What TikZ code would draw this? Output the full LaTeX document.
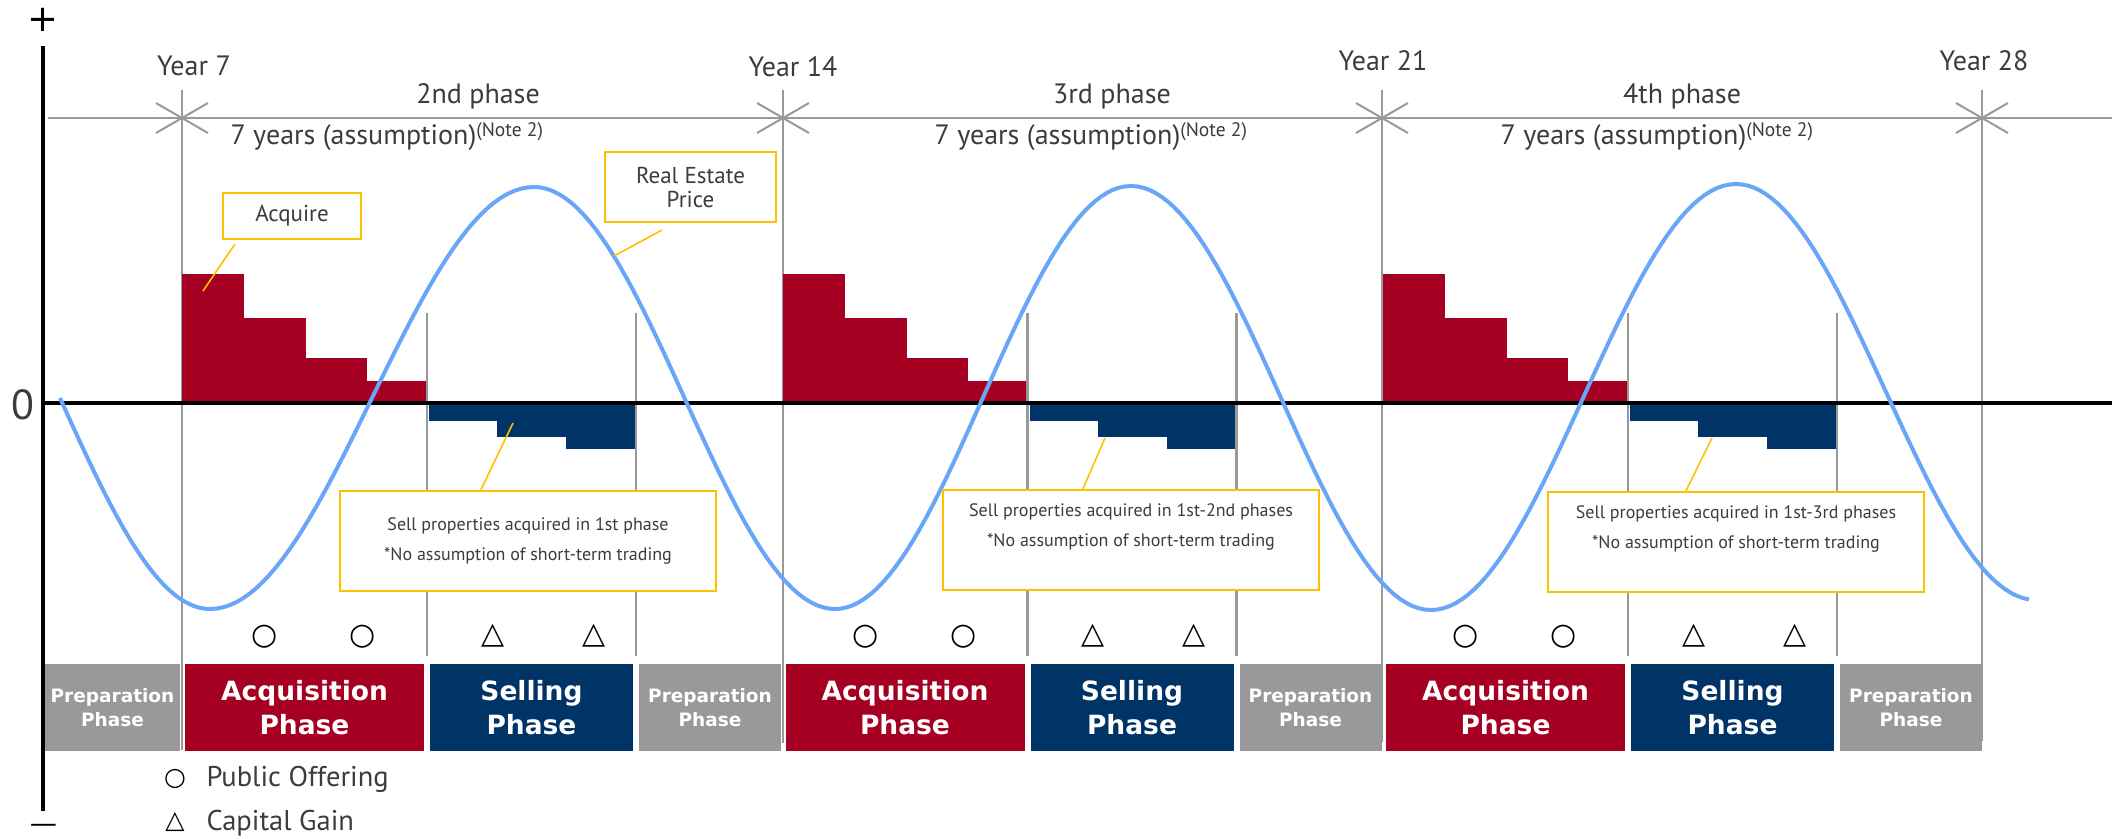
\documentclass[tikz,border=0pt]{standalone}
\usepackage{fontspec}
\setmainfont{PT Sans}
\newfontfamily\symfont{DejaVu Sans}
\usetikzlibrary{positioning}

\definecolor{acqred}{HTML}{A50021}
\definecolor{sellnavy}{HTML}{003366}
\definecolor{prepgray}{HTML}{999999}
\definecolor{guidegray}{HTML}{999999}
\definecolor{pricecol}{HTML}{6AA6F8}
\definecolor{calloutcol}{HTML}{FFC000}
\definecolor{ink}{HTML}{3C3C3C}

\newcommand{\fsz}[1]{\fontsize{#1}{#1}\selectfont}

\tikzset{
  guide/.style={draw=guidegray, line width=2.6pt},
  callbox/.style={draw=calloutcol, line width=2.2pt, fill=white, text=ink,
    align=center, inner sep=0pt},
  leader/.style={draw=calloutcol, line width=1.6pt},
  phasebox/.style={text=white, align=center, inner sep=0pt, minimum height=87pt,
    font=\symfont\bfseries\fsz{26.5}, text depth=0pt},
  prepbox/.style={phasebox, fill=prepgray, font=\symfont\bfseries\fsz{18.5}},
  yearlabel/.style={text=ink, font=\fsz{28}},
  glyphmark/.style={text=black, font=\symfont\fsz{30}, inner sep=0pt},
  signlabel/.style={font=\symfont\fsz{37}, inner sep=0pt, anchor=base},
}

\begin{document}
\begin{tikzpicture}[x=1pt, y=-1pt, line cap=butt]
  \useasboundingbox (0,0) rectangle (2112,838);

  % axes
  \draw[line width=3.6pt] (43,46) -- (43,811);
  \node[signlabel] (plus) at (43.5,31) {+};
  \node[font=\fsz{42}, text=ink] (zero) at (23,405) {0};
  \node[signlabel, font=\symfont\fsz{23}] (minus) at (43.5,832) {\scalebox{1.7}[1]{−}};

  % time line with year marks
  \draw[guidegray, line width=2.4pt] (48,118) -- (2112,118);
  \foreach \x/\lab/\lx/\ly/\yb in {182/Year 7/194/66/750, 783/Year 14/793/67/743,
      1382/Year 21/1383/61/742, 1982/Year 28/1984/61/741} {
    \draw[guide] (\x,90) -- (\x,\yb);
    \draw[guidegray, line width=2pt] (\x-26,103) -- (\x+26,133) (\x-26,133) -- (\x+26,103);
    \node[yearlabel] at (\lx,\ly) {\lab};
  }
  \foreach \x/\lab in {478/2nd phase, 1112/3rd phase, 1682/4th phase}
    \node[yearlabel] at (\x,96) {\lab};
  \foreach \x in {227, 931, 1497}
    \node[yearlabel, anchor=west] at (\x,137)
      {7 years (assumption)\raisebox{8pt}{\fsz{19.5}(Note 2)}};

  % bars and phases, one block per 7 years
  \foreach \k in {0,1,2} {
    \pgfmathsetmacro\o{182+\k*600.5}
    \foreach \a/\b/\t in {0/62/274, 62/124/318, 124/185/358, 185/244/381}
      \fill[acqred] (\o+\a,\t) rectangle (\o+\b,403);
    \foreach \a/\b/\t in {247/315/421, 315/384/437, 384/454/449}
      \fill[sellnavy] (\o+\a,403) rectangle (\o+\b,\t);
    \draw[guide] (\o+245,313) -- (\o+245,656);
    \draw[guide] (\o+454,313) -- (\o+454,656);
    \node[phasebox, fill=acqred, minimum width=239pt] (acq\k) at (\o+122.5,707.5)
      {Acquisition\\[8pt]Phase};
    \node[phasebox, fill=sellnavy, minimum width=203pt] (sell\k) at (\o+349.5,707.5)
      {Selling\\[8pt]Phase};
    \node[prepbox, minimum width=142pt] (prep\k) at (\o+528,707.5) {Preparation\\[5pt]Phase};
    \foreach \m in {83,181}
      \node[glyphmark] at (\o+\m,637) {○};
    \foreach \m in {311,412}
      \node[glyphmark] at (\o+\m,636) {△};
  }
  \node[prepbox, minimum width=135pt] (prepS) at (112.5,707.5) {Preparation\\[5pt]Phase};

  % zero line
  \draw[line width=4.6pt] (43,403) -- (2112,403);

  % real estate price
  \draw[pricecol, line width=4pt, line join=round]
    plot[domain=90:180, samples=30] ({-90+300*(\x/180)},{187+211*(1-cos(\x))})
    foreach \xa/\ya/\xb/\yb/\tb in {210/609/534/187/180, 534/187/835/609/180,
        835/609/1131/186/180, 1131/186/1431/610/180, 1431/610/1736/184/180,
        1736/184/2036/600/175.8}
    { -- plot[domain=0:\tb, samples=50] ({\xa+(\xb-\xa)*(\x/180)},{\ya+(\yb-\ya)*(1-cos(\x))/2}) };

  % callouts
  \node[callbox, minimum width=138pt, minimum height=46pt, font=\fsz{23}] (acquire) at (292,216) {Acquire};
  \coordinate (acquire-tip) at (203,291);
  \draw[leader] ([xshift=13pt,yshift=-4pt]acquire.south west) -- (acquire-tip);

  \node[callbox, minimum width=171pt, minimum height=70pt, font=\fsz{23}] (price) at (690.5,187)
    {Real Estate\\[1pt]Price};
  \coordinate (price-tip) at (614,256);
  \draw[leader] ([xshift=58pt,yshift=-7pt]price.south west) -- (price-tip);

  \node[callbox, minimum width=376pt, minimum height=100pt, font=\fsz{18}] (sellnote1) at (528,541)
    {Sell properties acquired in 1st phase\\[12pt]*No assumption of short-term trading};
  \node[callbox, minimum width=376pt, minimum height=100pt, font=\fsz{18}] (sellnote2) at (1131,540)
    {Sell properties acquired in 1st-2nd phases\\[12pt]*No assumption of short-term trading\\[12pt]~};
  \node[callbox, minimum width=376pt, minimum height=100pt, font=\fsz{18}] (sellnote3) at (1736,542)
    {Sell properties acquired in 1st-3rd phases\\[12pt]*No assumption of short-term trading\\[12pt]~};
  \coordinate (sell-tip1) at (513,423);
  \coordinate (sell-tip2) at (1105,438);
  \coordinate (sell-tip3) at (1712,438);
  \draw[leader] ([xshift=142pt]sellnote1.north west) -- (sell-tip1);
  \draw[leader] ([xshift=141pt]sellnote2.north west) -- (sell-tip2);
  \draw[leader] ([xshift=139pt]sellnote3.north west) -- (sell-tip3);

  % legend
  \node[glyphmark, font=\symfont\fsz{25}] (leg-po) at (175,779) {○};
  \node[text=ink, font=\fsz{28.5}, anchor=west] at (203,779) {Public Offering};
  \node[glyphmark, font=\symfont\fsz{25}] (leg-cg) at (175,822) {△};
  \node[text=ink, font=\fsz{28.5}, anchor=west] at (203,823) {Capital Gain};
\end{tikzpicture}
\end{document}
